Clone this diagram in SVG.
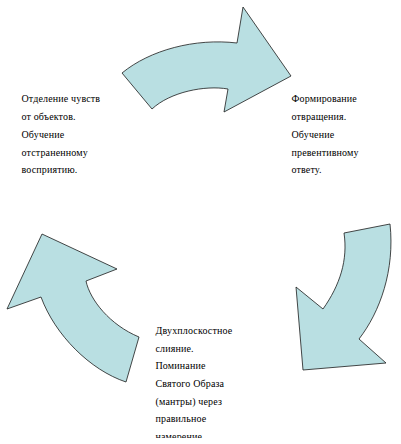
<svg xmlns="http://www.w3.org/2000/svg" width="401" height="444" viewBox="0 0 401 444">
<style>
.arr{fill:#b9dfe2;stroke:#1a1a1a;stroke-width:0.8;stroke-linejoin:miter}
text{font-family:"Liberation Serif","Times New Roman",serif;font-size:10px;fill:#000;letter-spacing:0.15px}
</style>
<defs>
<clipPath id="clipBottom"><rect x="150" y="320" width="150" height="118"/></clipPath>
</defs>
<rect width="401" height="444" fill="#fff"/>
<g id="connectors">
<path id="arrow-top" class="arr" d="M122,73 C150,50 195,38 237,43 L243,7 L291,76 L224,112 L228,89 C205,85 170,92 152,109 Z"/>
<path id="arrow-right" class="arr" d="M390,224 L344,233 C348,260 340,285 323,309 L296,287 L303,370 L386,363 L359,339 C380,312 395,270 390,224 Z"/>
<path id="arrow-left" class="arr" d="M126,382 L139,337 C110,325 90,300 86,281 L117,269 L42,234 L7,309 L41,297 C55,335 90,370 126,382 Z"/>
</g>
<g id="node-left">
<text x="21.5" y="102">Отделение чувств</text>
<text x="21.5" y="120">от объектов.</text>
<text x="21.5" y="138">Обучение</text>
<text x="21.5" y="155.5">отстраненному</text>
<text x="21.5" y="173">восприятию.</text>
</g>
<g id="node-right">
<text x="291.5" y="102">Формирование</text>
<text x="291.5" y="120">отвращения.</text>
<text x="291.5" y="138">Обучение</text>
<text x="291.5" y="155.5">превентивному</text>
<text x="291.5" y="173">ответу.</text>
</g>
<g id="node-bottom" clip-path="url(#clipBottom)">
<text x="155.5" y="334">Двухплоскостное</text>
<text x="155.5" y="351.7">слияние.</text>
<text x="155.5" y="369.3">Поминание</text>
<text x="155.5" y="387">Святого Образа</text>
<text x="155.5" y="404.5">(мантры) через</text>
<text x="155.5" y="422">правильное</text>
<text x="155.5" y="439.5">намерение</text>
</g>
</svg>
